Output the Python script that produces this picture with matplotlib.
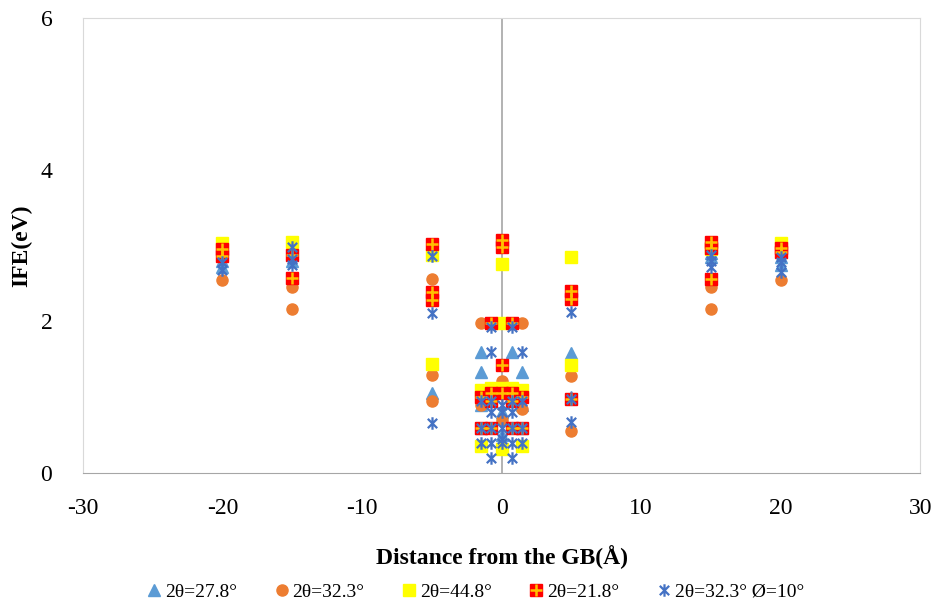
import matplotlib.pyplot as plt
from matplotlib.path import Path
import numpy as np

plt.rcParams['font.family'] = ['Liberation Serif', 'DejaVu Serif']
plt.rcParams['axes.unicode_minus'] = False

# 2θ=27.8° (triangles)
tri_x = [-20, -20, -15, -15, -5, 5, 5, -1.5, -1.5, -1.5, -1.5, 0.75, 1.5, 1.5, 1.5, 0, 0, 15, 15, 20, 20]
tri_y = [2.72, 2.80, 2.80, 2.90, 1.05, 1.58, 1.00, 1.60, 1.33, 0.90, 0.60, 1.60, 1.33, 0.90, 0.60, 0.80, 0.50, 2.85, 2.90, 2.75, 2.85]

# 2θ=32.3° (circles)
cir_x = [-20, -15, -15, -5, -5, -5, 5, 5, -1.5, 1.5, -1.5, 1.5, 0, 0, 15, 15, 20]
cir_y = [2.55, 2.45, 2.17, 2.56, 1.29, 0.95, 1.28, 0.55, 1.98, 1.98, 0.90, 0.85, 1.22, 0.70, 2.45, 2.17, 2.55]

# 2θ=44.8° (yellow squares)
yel_x = [-20, -15, -5, -5, 5, 5, 0, 0, 0, -0.75, 0.75, -1.5, 1.5, -1.5, 1.5, 0, 15, 20]
yel_y = [3.03, 3.05, 2.88, 1.44, 2.85, 1.42, 2.76, 1.98, 1.12, 1.12, 1.12, 1.10, 1.10, 0.35, 0.35, 0.32, 2.95, 3.04]

# 2θ=21.8° (red squares)
red_x = [-20, -20, -15, -15, -5, -5, -5, 5, 5, 5, -0.75, -0.75, -0.75, -0.75, 0, 0, 0, 0,
         0.75, 0.75, 0.75, 0.75, -1.5, -1.5, 1.5, 1.5, 15, 15, 15, 20, 20]
red_y = [2.95, 2.86, 2.88, 2.57, 3.02, 2.39, 2.28, 2.40, 2.30, 0.98, 1.98, 1.05, 0.95, 0.60, 3.07, 2.98, 1.43, 1.05,
         1.98, 1.05, 0.95, 0.60, 1.00, 0.60, 1.00, 0.60, 3.05, 2.97, 2.56, 2.97, 2.91]

# 2θ=32.3° Ø=10° (asterisks)
ast_x = [-20, -20, -15, -15, -15, -5, -5, -5, 5, 5, 5,
         -0.75, -0.75, -0.75, -0.75, -0.75, -0.75, -0.75, 0, 0, 0, 0, 0,
         0.75, 0.75, 0.75, 0.75, 0.75, 0.75, 1.5, 1.5, 1.5, 1.5, -1.5, -1.5, -1.5,
         15, 15, 15, 20, 20, 20]
ast_y = [2.78, 2.68, 2.98, 2.82, 2.75, 2.86, 2.11, 0.66, 2.12, 0.98, 0.67,
         1.92, 1.60, 0.95, 0.80, 0.60, 0.40, 0.20, 0.90, 0.80, 0.60, 0.45, 0.40,
         1.92, 0.95, 0.80, 0.60, 0.40, 0.20, 1.60, 0.95, 0.60, 0.40, 0.95, 0.60, 0.40,
         2.87, 2.80, 2.72, 2.85, 2.78, 2.65]

labels = ['2θ=27.8°', '2θ=32.3°', '2θ=44.8°', '2θ=21.8°', '2θ=32.3° Ø=10°']

asterisk = Path([(0, -1), (0, 1), (-0.75, -0.75), (0.75, 0.75), (-0.75, 0.75), (0.75, -0.75)],
                [Path.MOVETO, Path.LINETO, Path.MOVETO, Path.LINETO, Path.MOVETO, Path.LINETO])

fig = plt.figure(figsize=(9.41, 6.08), dpi=100)
ax = fig.add_axes([0.088, 0.222, 0.890, 0.748])

ms = 8
h1, = ax.plot(tri_x, tri_y, '^', color='#5B9BD5', markersize=ms, linestyle='none')
h2, = ax.plot(cir_x, cir_y, 'o', color='#ED7D31', markersize=ms, linestyle='none')
h3, = ax.plot(yel_x, yel_y, 's', color='#FFFF00', markersize=ms, linestyle='none')
h4a, = ax.plot(red_x, red_y, 's', color='#FF0000', markersize=ms, linestyle='none')
h4b, = ax.plot(red_x, red_y, '+', color='#FFC000', markersize=ms, markeredgewidth=1.8, linestyle='none')
h5, = ax.plot(ast_x, ast_y, marker=asterisk, color='#4472C4', markersize=9, markeredgewidth=1.6,
              fillstyle='none', linestyle='none')

ax.set_xlim(-30, 30)
ax.set_ylim(0, 6)
ax.set_xticks([-30, -20, -10, 0, 10, 20, 30])
ax.set_yticks([0, 2, 4, 6])
ax.axvline(0, color='#A6A6A6', linewidth=1.2, zorder=0)
for s in ax.spines.values():
    s.set_color('#D9D9D9')
ax.spines['bottom'].set_color('#A6A6A6')
ax.tick_params(axis='both', length=0, labelsize=17)
ax.tick_params(axis='x', pad=18)
ax.tick_params(axis='y', pad=22)

ax.set_xlabel('Distance from the GB(Å)', fontsize=17, fontweight='bold', labelpad=19)
ax.set_ylabel('IFE(eV)', fontsize=17, fontweight='bold', labelpad=6)

fig.legend([h1, h2, h3, (h4a, h4b), h5], labels, loc='center', bbox_to_anchor=(0.505, 0.026),
           ncol=5, frameon=False, fontsize=14, handlelength=0.8, handletextpad=0.15,
           columnspacing=1.9, borderaxespad=0)

fig.savefig('out.png', dpi=100)
